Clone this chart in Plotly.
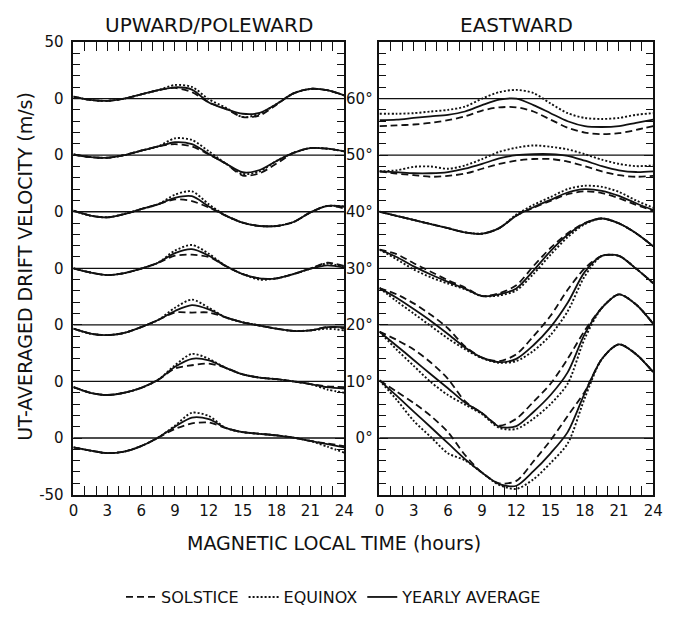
import plotly.graph_objects as go

# ---------------- data ----------------
hours = [0, 1.5, 3, 4.5, 6, 7.5, 9, 10.5, 12, 13.5, 15, 16.5, 18, 19.5, 21, 22.5, 24]
x_ticks = [0, 3, 6, 9, 12, 15, 18, 21, 24]
latitudes = [60, 50, 40, 30, 20, 10, 0]
lat_labels = ["60°", "50°", "40°", "30°", "20°", "10°", "0°"]

# UPWARD / POLEWARD drift (m/s), one row per latitude (60° ... 0°)
up_yearly = [
    [1.7, -1.2, -2.0, 0.0, 3.7, 7.4, 10.0, 8.0, -3.4, -9.1, -13.4, -12.6, -4.8, 4.6, 8.6, 7.4, 2.8],
    [0.6, -1.7, -2.3, 0.0, 4.0, 7.7, 11.4, 9.7, 1.1, -7.4, -15.1, -13.1, -5.1, 2.0, 6.3, 5.7, 3.4],
    [0.9, -3.4, -4.9, -2.0, 2.3, 6.6, 12.3, 13.7, 4.6, -3.4, -9.7, -12.6, -12.6, -9.1, -0.6, 5.1, 4.6],
    [0.0, -3.7, -6.0, -4.3, -0.3, 4.9, 13.4, 16.9, 11.1, 2.0, -5.1, -8.9, -8.9, -5.1, -0.3, 2.6, 0.6],
    [-3.4, -7.7, -9.1, -7.1, -2.0, 4.3, 12.3, 17.4, 13.7, 6.6, 2.3, -0.6, -3.4, -5.4, -4.9, -2.0, -2.0],
    [-5.1, -10.0, -12.0, -10.0, -5.7, 1.4, 12.9, 20.0, 18.6, 12.0, 6.3, 3.4, 2.0, 0.0, -2.3, -5.1, -6.3],
    [-8.3, -11.1, -13.4, -12.0, -7.1, 0.3, 10.0, 18.0, 16.6, 8.9, 5.1, 3.7, 2.3, 0.3, -2.6, -5.4, -8.3],
]
up_equinox = [
    [1.7, -1.2, -2.0, 0.0, 3.7, 7.4, 12.0, 10.3, -0.6, -8.0, -16.3, -13.4, -4.8, 4.6, 8.6, 7.4, 2.8],
    [0.6, -1.7, -2.3, 0.0, 4.0, 7.7, 14.9, 13.4, 3.4, -7.4, -16.6, -14.3, -5.1, 2.0, 6.3, 5.7, 3.4],
    [0.9, -3.4, -4.9, -2.0, 2.3, 6.6, 15.1, 18.0, 6.6, -3.4, -9.7, -12.6, -12.6, -9.1, -0.6, 5.1, 4.6],
    [0.0, -3.7, -6.0, -4.3, -0.3, 4.9, 15.7, 20.6, 12.9, 2.0, -5.1, -10.0, -8.9, -5.1, -0.3, 4.3, 0.6],
    [-3.4, -7.7, -9.1, -7.1, -2.0, 4.3, 15.1, 22.3, 15.1, 6.6, 2.3, -0.6, -3.4, -5.4, -4.9, -3.4, -4.9],
    [-5.1, -10.0, -12.0, -10.0, -5.7, 1.4, 14.3, 24.3, 20.0, 12.0, 6.3, 3.4, 2.0, 0.0, -2.3, -7.1, -10.0],
    [-8.3, -11.1, -13.4, -12.0, -7.1, 0.3, 10.9, 22.3, 19.4, 8.9, 5.1, 3.7, 2.3, 0.3, -2.6, -7.7, -12.9],
]
up_solstice = [
    [1.7, -1.2, -2.0, 0.0, 3.7, 7.4, 9.4, 5.7, -3.4, -9.1, -16.3, -14.9, -5.4, 4.6, 8.6, 7.4, 2.8],
    [0.6, -1.7, -2.3, 0.0, 4.0, 7.7, 9.7, 7.7, 0.6, -7.4, -18.0, -16.0, -7.4, 2.0, 6.3, 5.7, 3.4],
    [0.9, -3.4, -4.9, -2.0, 2.3, 6.6, 10.9, 9.4, 3.7, -3.4, -9.7, -12.6, -12.6, -9.1, -0.6, 5.1, 2.9],
    [0.0, -3.7, -6.0, -4.3, -0.3, 4.9, 11.1, 12.0, 10.0, 2.0, -5.1, -8.9, -8.9, -5.1, -0.3, 4.9, 2.0],
    [-3.4, -7.7, -9.1, -7.1, -2.0, 4.3, 10.9, 10.9, 10.9, 6.6, 2.3, -0.6, -3.4, -5.4, -4.9, -2.0, -2.9],
    [-5.1, -10.0, -12.0, -10.0, -5.7, 1.4, 11.4, 14.3, 15.7, 12.0, 6.3, 3.4, 2.0, 0.0, -2.3, -4.3, -5.1],
    [-8.3, -11.1, -13.4, -12.0, -7.1, 0.3, 8.0, 12.9, 13.7, 8.9, 5.1, 3.7, 2.3, 0.3, -2.6, -4.9, -7.1],
]

# EASTWARD drift, one row per latitude (60° ... 0°)
east_yearly = [
    [-19.1, -18.6, -17.1, -15.7, -14.3, -11.4, -5.7, -0.9, 0.0, -5.7, -12.9, -20.0, -24.3, -25.1, -24.3, -21.4, -18.6],
    [-14.3, -15.0, -16.0, -16.0, -14.9, -12.0, -7.7, -2.9, 0.0, 0.9, 0.9, -0.6, -4.9, -9.7, -13.4, -14.9, -14.3],
    [0.0, -3.7, -7.3, -10.9, -14.5, -18.2, -19.4, -14.5, -3.5, 4.0, 10.5, 17.0, 20.0, 18.5, 14.0, 7.5, 1.5],
    [16.6, 10.0, 1.7, -5.5, -12.0, -18.0, -24.5, -23.0, -17.8, -2.0, 15.2, 29.6, 39.7, 44.0, 39.7, 31.0, 19.5],
    [32.5, 24.0, 14.0, 3.5, -8.0, -20.0, -29.0, -33.0, -30.0, -18.0, -2.0, 19.5, 46.8, 61.0, 61.0, 49.7, 36.8],
    [44.0, 31.6, 19.0, 6.3, -6.0, -18.7, -28.0, -40.0, -39.5, -27.0, -12.0, 8.0, 42.0, 65.0, 77.0, 68.0, 51.0],
    [51.0, 37.4, 23.3, 9.5, -4.6, -18.7, -30.7, -40.8, -42.2, -29.3, -13.5, 5.2, 39.7, 69.8, 82.8, 74.1, 58.3],
]
east_equinox = [
    [-13.4, -13.4, -12.9, -11.4, -10.0, -7.1, 0.0, 5.7, 7.7, 4.9, -4.3, -12.9, -17.1, -18.0, -17.1, -14.3, -12.9],
    [-14.3, -13.4, -10.3, -10.0, -12.0, -9.1, -3.4, 2.9, 6.6, 8.6, 7.4, 5.1, 0.9, -4.0, -7.7, -9.7, -9.1],
    [0.0, -3.7, -7.3, -10.9, -14.5, -18.2, -19.4, -14.5, -2.5, 6.0, 13.0, 20.0, 23.0, 22.0, 17.5, 10.0, 3.5],
    [16.6, 8.0, -1.0, -8.0, -13.5, -18.5, -24.5, -24.0, -19.5, -5.0, 12.0, 27.5, 39.0, 44.0, 39.7, 31.0, 19.5],
    [32.5, 21.0, 10.0, -1.0, -12.0, -21.5, -29.5, -33.5, -32.0, -23.0, -9.0, 12.0, 43.0, 61.0, 61.0, 49.7, 36.8],
    [44.0, 28.2, 13.8, -0.6, -12.0, -20.5, -29.0, -41.0, -42.0, -33.0, -20.0, -2.0, 38.0, 65.0, 77.0, 68.0, 51.0],
    [51.0, 33.9, 15.2, 0.9, -13.5, -19.8, -30.7, -41.5, -45.0, -36.5, -22.1, -4.9, 35.3, 69.8, 82.8, 74.1, 58.3],
]
east_solstice = [
    [-24.3, -23.7, -22.9, -21.4, -19.1, -15.7, -10.6, -7.7, -7.7, -11.4, -18.6, -25.7, -30.0, -31.4, -30.6, -27.7, -24.3],
    [-14.3, -16.3, -17.7, -19.1, -18.3, -16.3, -12.0, -7.7, -4.9, -3.4, -3.4, -5.7, -9.7, -14.3, -17.7, -19.1, -18.3],
    [0.0, -3.7, -7.3, -10.9, -14.5, -18.2, -19.4, -14.5, -3.5, 3.5, 9.5, 15.5, 18.0, 16.5, 12.0, 6.0, 1.0],
    [16.6, 12.5, 4.5, -3.0, -10.5, -17.0, -24.5, -22.0, -15.0, 2.0, 18.0, 31.0, 40.0, 44.0, 39.7, 31.0, 19.5],
    [32.5, 27.0, 19.0, 9.0, -3.0, -19.0, -29.0, -32.0, -26.0, -10.0, 8.0, 31.0, 50.0, 61.0, 61.0, 49.7, 36.8],
    [44.0, 36.8, 28.2, 16.7, 2.3, -17.5, -28.0, -39.0, -33.0, -18.0, -2.0, 20.0, 45.0, 65.0, 77.0, 68.0, 51.0],
    [51.0, 41.0, 31.0, 19.5, 5.2, -15.0, -30.7, -40.0, -37.9, -20.7, -2.0, 19.5, 41.0, 69.8, 82.8, 74.1, 58.3],
]

# ---------------- figure ----------------
FONT = "DejaVu Sans"
BLACK = "#111111"


def baseline(lat):
    # each latitude curve is stacked 50 m/s apart, 30° sits at zero
    return (lat - 30) * 5


seasons = [
    ("EQUINOX", up_equinox, east_equinox, dict(color=BLACK, width=1.9, dash="2px,2px"), 2),
    ("SOLSTICE", up_solstice, east_solstice, dict(color=BLACK, width=1.8, dash="7px,4px"), 1),
    ("YEARLY AVERAGE", up_yearly, east_yearly, dict(color=BLACK, width=1.8), 3),
]

fig = go.Figure()
for name, up_vals, east_vals, line, rank in seasons:
    for panel, vals in (("", up_vals), ("2", east_vals)):
        for i, lat in enumerate(latitudes):
            b = baseline(lat)
            fig.add_trace(go.Scatter(
                x=hours, y=[b + v for v in vals[i]],
                mode="lines", line=dict(shape="spline", smoothing=0.8, **line),
                xaxis="x" + panel, yaxis="y" + panel,
                name=name, legendgroup=name, legendrank=rank,
                showlegend=(panel == "" and i == 0), hoverinfo="skip",
            ))

# zero lines of every stacked curve
for panel in ("", "2"):
    for lat in latitudes:
        b = baseline(lat)
        fig.add_shape(type="line", xref=("x" + panel + " domain"), yref="y" + panel,
                      x0=0, x1=1, y0=b, y1=b, line=dict(color=BLACK, width=1.3), layer="below")

tickfont = dict(family=FONT, size=15, color=BLACK)
common_x = dict(range=[0, 24], tickmode="array", tickvals=x_ticks, ticktext=[str(t) for t in x_ticks],
                ticks="inside", ticklen=9, tickwidth=1.3, tickcolor=BLACK, mirror="ticks",
                showline=True, linecolor=BLACK, linewidth=1.6, showgrid=False, zeroline=False,
                minor=dict(dtick=1, ticks="inside", ticklen=9, tickwidth=1.3, tickcolor=BLACK, showgrid=False),
                tickfont=tickfont, ticklabelstandoff=2)
ymin, ymax = baseline(0) - 50, baseline(60) + 50
common_y = dict(range=[ymin, ymax], tickmode="array",
                ticks="inside", ticklen=9, tickwidth=1.3, tickcolor=BLACK, mirror="ticks",
                showline=True, linecolor=BLACK, linewidth=1.6, showgrid=False, zeroline=False,
                minor=dict(dtick=10, ticks="inside", ticklen=7, tickwidth=1.3, tickcolor=BLACK, showgrid=False),
                tickfont=tickfont)

left_vals = [ymax] + [baseline(l) for l in latitudes] + [ymin]
left_text = ["50"] + ["0" for _ in latitudes] + ["-50"]

fig.update_layout(
    autosize=True, margin=dict(l=0, r=0, t=0, b=0),
    paper_bgcolor="white", plot_bgcolor="white",
    xaxis=dict(domain=[0.1040, 0.5156], anchor="y", **common_x),
    xaxis2=dict(domain=[0.5691, 0.9851], anchor="y2", **common_x),
    yaxis=dict(domain=[0.1974, 0.9454], anchor="x", tickvals=left_vals, ticktext=left_text,
               ticklabelstandoff=5, **common_y),
    yaxis2=dict(domain=[0.1974, 0.9454], anchor="x2", tickvals=[baseline(l) for l in latitudes],
                ticktext=lat_labels, ticklabelstandoff=2, **common_y),
    showlegend=True,
    legend=dict(orientation="h", x=0.5, xanchor="center", y=0.028, yanchor="middle",
                font=dict(family=FONT, size=16, color=BLACK), bgcolor="rgba(0,0,0,0)",
                itemwidth=30, tracegroupgap=0),
    font=dict(family=FONT, color=BLACK),
)

fig.add_annotation(text="UPWARD/POLEWARD", xref="x domain", yref="paper", x=0.5, y=0.973,
                   xanchor="center", yanchor="middle",
                   showarrow=False, font=dict(family=FONT, size=20, color=BLACK))
fig.add_annotation(text="EASTWARD", xref="x2 domain", yref="paper", x=0.5, y=0.973,
                   xanchor="center", yanchor="middle",
                   showarrow=False, font=dict(family=FONT, size=20, color=BLACK))
fig.add_annotation(text="UT-AVERAGED DRIFT VELOCITY (m/s)", xref="paper", yref="paper",
                   x=0.030, y=0.575, xanchor="center", yanchor="middle", textangle=-90, showarrow=False,
                   font=dict(family=FONT, size=19, color=BLACK))
fig.add_annotation(text="MAGNETIC LOCAL TIME (hours)", xref="paper", yref="paper",
                   x=0.5, y=0.117, xanchor="center", yanchor="middle",
                   showarrow=False, font=dict(family=FONT, size=19, color=BLACK))

fig.write_html("out.html", config={"displayModeBar": False, "responsive": True},
               default_width="100vw", default_height="100vh",
               post_script="document.body.style.margin='0px';document.body.style.overflow='hidden';")
